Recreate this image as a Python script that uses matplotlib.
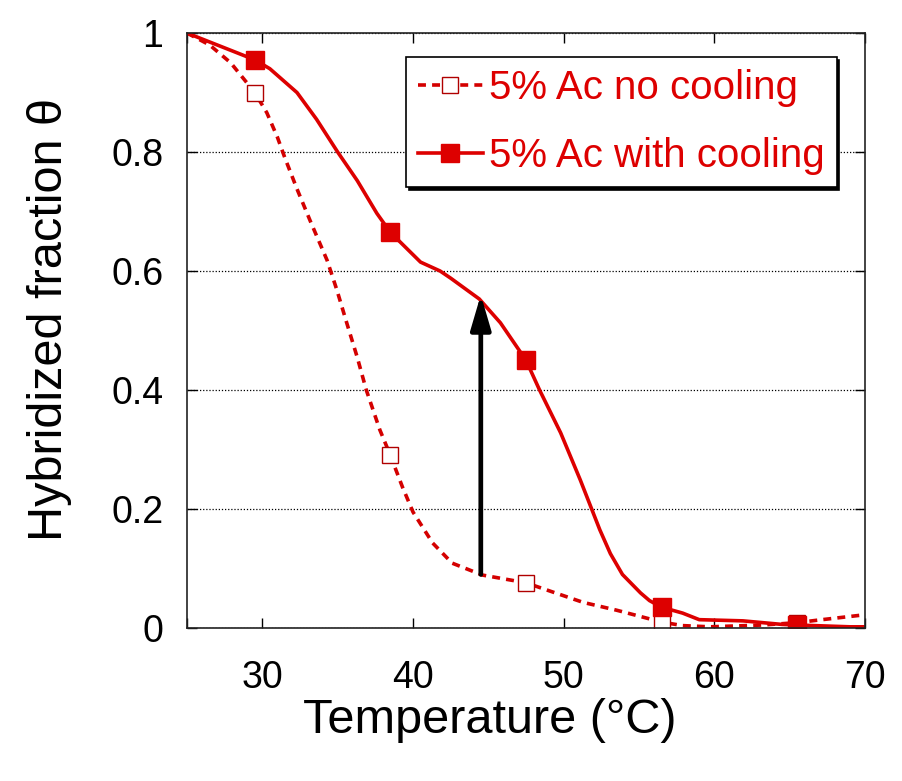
import matplotlib.pyplot as plt
from matplotlib.ticker import FuncFormatter

plt.rcParams['font.family'] = ['Liberation Sans', 'DejaVu Sans']

# melting curve, 5% Ac, no cooling step
temp_nocool = [25.0, 26.5, 27.9, 29.5, 30.3, 31.0, 31.5, 32.3, 33.2, 34.3,
               34.95, 35.6, 36.3, 36.9, 37.8, 38.5, 39.3, 40.0, 41.3, 42.6,
               44.6, 47.5, 49.1, 51.3, 53.5, 55.3, 56.5, 57.9, 59.7, 63.2,
               65.5, 66.8, 69.9]
theta_nocool = [1.0, 0.98, 0.95, 0.90, 0.866, 0.825, 0.79, 0.738, 0.683, 0.618,
                0.568, 0.513, 0.455, 0.40, 0.333, 0.29, 0.237, 0.195, 0.143, 0.109,
                0.089, 0.076, 0.062, 0.043, 0.030, 0.018, 0.010, 0.004, 0.002, 0.005,
                0.009, 0.013, 0.022]
marks_nocool = [3, 15, 21, 26, 30]

# melting curve, 5% Ac, with cooling step
temp_cool = [25.0, 27.0, 29.5, 30.5, 32.3, 33.6, 35.0, 36.3, 37.6, 38.5,
             39.5, 40.5, 41.8, 42.5, 44.4, 45.8, 47.5, 48.4, 49.8, 51.1,
             52.4, 53.1, 53.9, 55.1, 55.7, 56.5, 57.9, 59.0, 61.9, 64.5,
             65.5, 69.0, 70.0]
theta_cool = [1.0, 0.98, 0.955, 0.94, 0.90, 0.855, 0.80, 0.752, 0.697, 0.665,
              0.64, 0.615, 0.60, 0.588, 0.553, 0.513, 0.45, 0.40, 0.328, 0.249,
              0.165, 0.125, 0.090, 0.059, 0.046, 0.035, 0.025, 0.014, 0.012, 0.006,
              0.005, 0.002, 0.002]
marks_cool = [2, 9, 16, 25, 30]

# arrow showing the gain from cooling at 44.5 C
arrow_x = 44.5
arrow_from = 0.09
arrow_to = 0.56

red = '#dd0000'

fig = plt.figure(figsize=(9.02, 7.81), dpi=100)
ax = fig.add_axes([0.2073, 0.1959, 0.7517, 0.7618])

ax.plot(temp_nocool, theta_nocool, color='#d40000', lw=2.6, ls=(0, (2.2, 1.7)),
        marker='s', markevery=marks_nocool, ms=11, mfc='white',
        mec='#b00000', mew=1.0, label='5% Ac no cooling')
ax.plot(temp_cool, theta_cool, color=red, lw=2.6, marker='s',
        markevery=marks_cool, ms=13, mfc=red, mec=red,
        label='5% Ac with cooling')

ax.annotate('', xy=(arrow_x, arrow_to), xytext=(arrow_x, arrow_from),
            arrowprops=dict(arrowstyle='-|>,head_length=0.75,head_width=0.22',
                            color='black', lw=3.4, mutation_scale=28,
                            shrinkA=0, shrinkB=0))

ax.set_xlim(25, 70)
ax.set_ylim(0, 1)
ax.set_xticks([25, 30, 40, 50, 60, 70])
ax.set_xticklabels(['', '30', '40', '50', '60', '70'])
ax.set_yticks([0, 0.2, 0.4, 0.6, 0.8, 1.0])
ax.yaxis.set_major_formatter(FuncFormatter(lambda v, p: f'{v:g}'))
ax.tick_params(direction='in', length=7, width=1, labelsize=27,
               top=True, right=True)
ax.tick_params(axis='x', pad=23)
ax.tick_params(axis='y', pad=17)
ax.yaxis.grid(True, ls=(0, (1, 1.5)), color='black', lw=0.9)
for s in ax.spines.values():
    s.set_linewidth(1.2)
    s.set_color('#222222')

ax.set_xlabel('Temperature (°C)', fontsize=35)
ax.set_ylabel('Hybridized fraction θ', fontsize=35)
ax.xaxis.set_label_coords(0.447, -0.118)
ax.yaxis.set_label_coords(-0.17, 0.518)

leg = ax.legend(loc='upper right', bbox_to_anchor=(0.958, 0.96),
                borderaxespad=0, fontsize=29, frameon=True, fancybox=False,
                shadow={'color': 'black', 'alpha': 1}, handlelength=1.6,
                handletextpad=0.15, borderpad=0.3, labelspacing=0.75)
leg.get_frame().set_edgecolor('black')
leg.get_frame().set_linewidth(1.2)
for t in leg.get_texts():
    t.set_color(red)

fig.savefig('out.png', dpi=100)
